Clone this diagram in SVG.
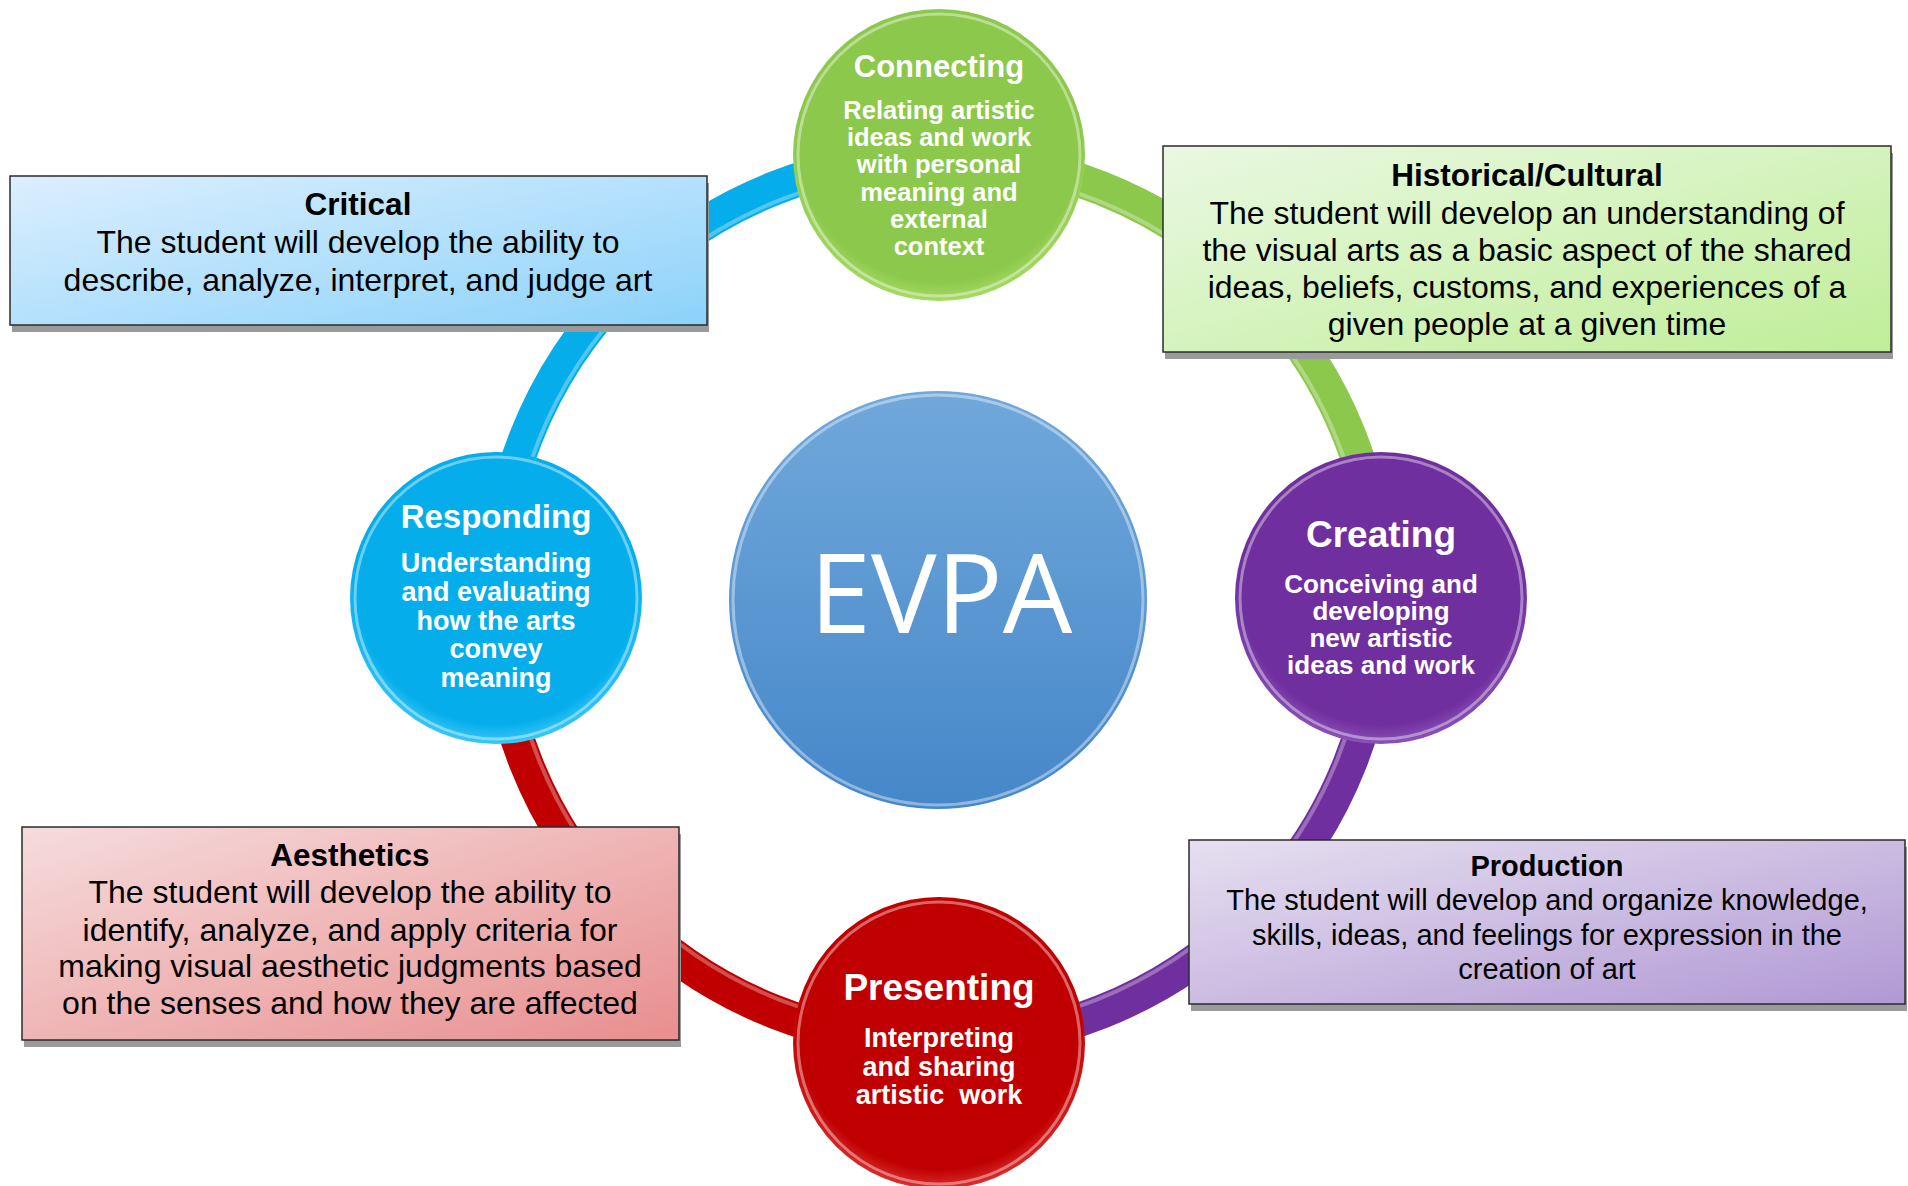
<svg xmlns="http://www.w3.org/2000/svg" width="1908" height="1186" viewBox="0 0 1908 1186">
<defs>
<linearGradient id="gCrit" x1="0" y1="0" x2="1" y2="1"><stop offset="0" stop-color="#DCEFFE"/><stop offset="1" stop-color="#8CD2FA"/></linearGradient>
<linearGradient id="gHist" x1="0" y1="0" x2="1" y2="1"><stop offset="0" stop-color="#EAF8E2"/><stop offset="1" stop-color="#BFEE98"/></linearGradient>
<linearGradient id="gAes" x1="0" y1="0" x2="1" y2="1"><stop offset="0" stop-color="#F6DCDD"/><stop offset="1" stop-color="#E88E8E"/></linearGradient>
<linearGradient id="gProd" x1="0" y1="0" x2="1" y2="1"><stop offset="0" stop-color="#E6E0F0"/><stop offset="1" stop-color="#B198D4"/></linearGradient>
<linearGradient id="gEvpa" x1="0" y1="0" x2="0" y2="1"><stop offset="0" stop-color="#70A8DB"/><stop offset="1" stop-color="#4687C9"/></linearGradient>
<radialGradient id="gGreen" cx="0.5" cy="0.45" r="0.55"><stop offset="0.88" stop-color="#8CC84B"/><stop offset="1" stop-color="#A6DA64"/></radialGradient>
<radialGradient id="gBlue" cx="0.5" cy="0.45" r="0.55"><stop offset="0.88" stop-color="#05AEEB"/><stop offset="1" stop-color="#3CC8F5"/></radialGradient>
<radialGradient id="gPurple" cx="0.5" cy="0.45" r="0.55"><stop offset="0.88" stop-color="#702F9E"/><stop offset="1" stop-color="#8A52B8"/></radialGradient>
<radialGradient id="gRed" cx="0.5" cy="0.45" r="0.55"><stop offset="0.88" stop-color="#C00000"/><stop offset="1" stop-color="#D83030"/></radialGradient>
</defs>
<style>
.ring{fill:none;stroke-width:34;stroke-linecap:butt}
.hl{fill:none;stroke:#ffffff;stroke-opacity:0.3;stroke-width:4}
.box{stroke:#2b2b2b;stroke-width:1.5}
.shadow{fill:#9a9a9a}
.bt{font-family:"Liberation Sans",Arial,sans-serif;fill:#000;text-anchor:middle}
.bt .h{font-weight:bold}
.ct{font-family:"Liberation Sans",Arial,sans-serif;fill:#fff;font-weight:bold;text-anchor:middle}
.rim{fill:none;stroke:#ffffff;stroke-opacity:0.4;stroke-width:3}
</style>
<g id="connectors">
<path class="ring" stroke="#05AEEB" d="M 495 600 A 443 443 0 0 1 938 157"/>
<path class="ring" stroke="#8CC84B" d="M 938 157 A 443 443 0 0 1 1381 600"/>
<path class="ring" stroke="#702F9E" d="M 1381 600 A 443 443 0 0 1 938 1043"/>
<path class="ring" stroke="#C00000" d="M 938 1043 A 443 443 0 0 1 495 600"/>
<circle class="hl" cx="938" cy="600" r="430"/>
</g>
<g id="evpa">
<circle cx="938" cy="600" r="209" fill="url(#gEvpa)"/>
<circle cx="938" cy="600" r="205" class="rim"/>
<text x="941" y="633" font-family="'Open Sans',sans-serif" font-size="110" fill="#fff" text-anchor="middle">EVPA</text>
</g>
<g id="connecting">
<circle cx="939" cy="155" r="146" fill="url(#gGreen)"/>
<circle cx="939" cy="155" r="141" class="rim"/>
<text class="ct" x="939" y="77" font-size="31">Connecting</text>
<text class="ct" font-size="25.5"><tspan x="939" y="119">Relating artistic</tspan><tspan x="939" y="146">ideas and work</tspan><tspan x="939" y="173">with personal</tspan><tspan x="939" y="201">meaning and</tspan><tspan x="939" y="228">external</tspan><tspan x="939" y="255">context</tspan></text>
</g>
<g id="responding">
<circle cx="496" cy="598" r="146" fill="url(#gBlue)"/>
<circle cx="496" cy="598" r="141" class="rim"/>
<text class="ct" x="496" y="528" font-size="33">Responding</text>
<text class="ct" font-size="27"><tspan x="496" y="572">Understanding</tspan><tspan x="496" y="601">and evaluating</tspan><tspan x="496" y="630">how the arts</tspan><tspan x="496" y="658">convey</tspan><tspan x="496" y="687">meaning</tspan></text>
</g>
<g id="creating">
<circle cx="1381" cy="598" r="146" fill="url(#gPurple)"/>
<circle cx="1381" cy="598" r="141" class="rim"/>
<text class="ct" x="1381" y="547" font-size="37">Creating</text>
<text class="ct" font-size="26"><tspan x="1381" y="593">Conceiving and</tspan><tspan x="1381" y="620">developing</tspan><tspan x="1381" y="647">new artistic</tspan><tspan x="1381" y="674">ideas and work</tspan></text>
</g>
<g id="presenting">
<circle cx="939" cy="1043" r="146" fill="url(#gRed)"/>
<circle cx="939" cy="1043" r="141" class="rim"/>
<text class="ct" x="939" y="1000" font-size="37">Presenting</text>
<text class="ct" font-size="27" xml:space="preserve"><tspan x="939" y="1047">Interpreting</tspan><tspan x="939" y="1076">and sharing</tspan><tspan x="939" y="1104">artistic  work</tspan></text>
</g>
<g id="critical">
<rect class="shadow" x="12" y="183" width="697" height="149"/>
<rect class="box" x="10" y="176" width="697" height="149" fill="url(#gCrit)"/>
<text class="bt" font-size="32"><tspan class="h" x="358" y="215" font-size="31.5">Critical</tspan><tspan x="358" y="253">The student will develop the ability to</tspan><tspan x="358" y="291">describe, analyze, interpret, and judge art</tspan></text>
</g>
<g id="historical">
<rect class="shadow" x="1165" y="153" width="728" height="206"/>
<rect class="box" x="1163" y="146" width="728" height="206" fill="url(#gHist)"/>
<text class="bt" font-size="32"><tspan class="h" x="1527" y="186" font-size="31.5">Historical/Cultural</tspan><tspan x="1527" y="224">The student will develop an understanding of</tspan><tspan x="1527" y="261">the visual arts as a basic aspect of the shared</tspan><tspan x="1527" y="298">ideas, beliefs, customs, and experiences of a</tspan><tspan x="1527" y="335">given people at a given time</tspan></text>
</g>
<g id="aesthetics">
<rect class="shadow" x="24" y="834" width="657" height="213"/>
<rect class="box" x="22" y="827" width="657" height="213" fill="url(#gAes)"/>
<text class="bt" font-size="32"><tspan class="h" x="350" y="866" font-size="31.5">Aesthetics</tspan><tspan x="350" y="903">The student will develop the ability to</tspan><tspan x="350" y="941">identify, analyze, and apply criteria for</tspan><tspan x="350" y="977">making visual aesthetic judgments based</tspan><tspan x="350" y="1014">on the senses and how they are affected</tspan></text>
</g>
<g id="production">
<rect class="shadow" x="1191" y="847" width="716" height="164"/>
<rect class="box" x="1189" y="840" width="716" height="164" fill="url(#gProd)"/>
<text class="bt" font-size="29"><tspan class="h" x="1547" y="876">Production</tspan><tspan x="1547" y="910">The student will develop and organize knowledge,</tspan><tspan x="1547" y="945">skills, ideas, and feelings for expression in the</tspan><tspan x="1547" y="979">creation of art</tspan></text>
</g>
</svg>
